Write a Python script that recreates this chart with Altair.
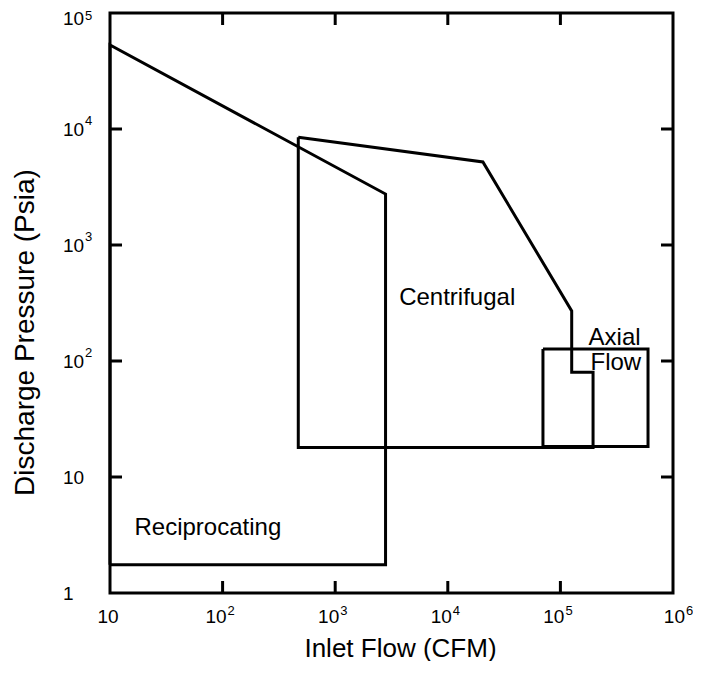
import altair as alt
import pandas as pd

# Region outlines (Inlet flow CFM, discharge pressure psia)
recip_x = [10, 10, 2800, 2800, 10]
recip_y = [1.75, 53000, 2750, 1.75, 1.75]

centri_x = [470, 20500, 126000, 126000, 195000, 195000, 470, 470]
centri_y = [8500, 5200, 270, 80, 80, 18, 18, 8500]

axial_x = [70000, 600000, 600000, 70000, 70000]
axial_y = [127, 127, 18.3, 18.3, 127]

label_text = ["Reciprocating", "Centrifugal", "Axial", "Flow"]
label_x = [16.5, 3700, 178000, 185000]
label_y = [3.6, 350, 158, 96]

x_ticks = [10, 100, 1000, 10000, 100000, 1000000]
x_tick_base = ["10", "10", "10", "10", "10", "10"]
x_tick_exp = ["", "2", "3", "4", "5", "6"]
y_ticks = [1, 10, 100, 1000, 10000, 100000]
y_tick_base = ["1", "10", "10", "10", "10", "10"]
y_tick_exp = ["", "", "2", "3", "4", "5"]

rows = []
for name, xs, ys in [("Reciprocating", recip_x, recip_y),
                     ("Centrifugal", centri_x, centri_y),
                     ("Axial", axial_x, axial_y)]:
    for i, (a, b) in enumerate(zip(xs, ys)):
        rows.append({"region": name, "order": i, "flow": a, "pressure": b})
df = pd.DataFrame(rows)
labels = pd.DataFrame({"text": label_text, "flow": label_x, "pressure": label_y})
xl = pd.DataFrame({"v": x_ticks, "base": x_tick_base, "exp": x_tick_exp})
yl = pd.DataFrame({"v": y_ticks, "base": y_tick_base, "exp": y_tick_exp})
xt = pd.DataFrame({"v": x_ticks[1:-1]})
yt = pd.DataFrame({"v": y_ticks[1:-1]})

W, H = 563, 580
FONT = "Liberation Sans"
LFS, SFS = 19, 13

xscale = alt.Scale(type="log", domain=[10, 1000000], nice=False)
yscale = alt.Scale(type="log", domain=[1, 100000], nice=False)

xaxis = alt.Axis(values=x_ticks, ticks=False, tickSize=0, domain=False, grid=False,
                 labels=False,
                 title="Inlet Flow (CFM)", titleFont=FONT, titleFontSize=26,
                 titleFontWeight="normal", titleColor="black",
                 titleX=290, titleY=63, titleBaseline="alphabetic")
yaxis = alt.Axis(values=y_ticks, ticks=False, tickSize=0, domain=False, grid=False,
                 labels=False,
                 title="Discharge Pressure (Psia)", titleFont=FONT, titleFontSize=28,
                 titleFontWeight="normal", titleColor="black",
                 titleX=-71, titleY=319, titleBaseline="bottom")

lines = alt.Chart(df).mark_line(color="black", strokeWidth=3, strokeJoin="miter").encode(
    x=alt.X("flow:Q", scale=xscale, axis=xaxis),
    y=alt.Y("pressure:Q", scale=yscale, axis=yaxis),
    detail="region:N",
    order="order:Q",
)

text = alt.Chart(labels).mark_text(align="left", baseline="middle", font=FONT,
                                   fontSize=24, color="black").encode(
    x=alt.X("flow:Q", scale=xscale),
    y=alt.Y("pressure:Q", scale=yscale),
    text="text:N",
)

def tx(filt, align, dx, yoff, field, size):
    return alt.Chart(xl).transform_filter(filt).mark_text(
        align=align, baseline="alphabetic", font=FONT, fontSize=size, color="black", dx=dx
    ).encode(x=alt.X("v:Q", scale=xscale), y=alt.value(H + yoff), text=f"{field}:N")

def ty(filt, x, dy, field, size):
    return alt.Chart(yl).transform_filter(filt).mark_text(
        align="left", baseline="alphabetic", font=FONT, fontSize=size, color="black", dy=dy
    ).encode(y=alt.Y("v:Q", scale=yscale), x=alt.value(x), text=f"{field}:N")

# tick labels: base "10" plus raised exponent
x_labels = [
    tx("datum.exp == ''", "center", -2, 30, "base", LFS),
    tx("datum.exp != '' && datum.v < 1000000", "right", 4, 30, "base", LFS),
    tx("datum.exp != '' && datum.v < 1000000", "left", 5, 22, "exp", SFS),
    tx("datum.v == 1000000", "right", 12, 30, "base", LFS),
    tx("datum.v == 1000000", "left", 13, 22, "exp", SFS),
]
y_labels = [
    ty("datum.v < 100000", -47, 7, "base", LFS),
    ty("datum.exp != '' && datum.v < 100000", -25, -4, "exp", SFS),
    ty("datum.v == 100000", -47, 12, "base", LFS),
    ty("datum.v == 100000", -25, 7, "exp", SFS),
]

tl = 12
bt = alt.Chart(xt).mark_rule(color="black", strokeWidth=3).encode(
    x=alt.X("v:Q", scale=xscale), y=alt.value(H), y2=alt.value(H - tl))
tt = alt.Chart(xt).mark_rule(color="black", strokeWidth=3).encode(
    x=alt.X("v:Q", scale=xscale), y=alt.value(0), y2=alt.value(tl))
lt = alt.Chart(yt).mark_rule(color="black", strokeWidth=3).encode(
    y=alt.Y("v:Q", scale=yscale), x=alt.value(0), x2=alt.value(tl))
rt = alt.Chart(yt).mark_rule(color="black", strokeWidth=3).encode(
    y=alt.Y("v:Q", scale=yscale), x=alt.value(W), x2=alt.value(W - tl))

chart = alt.layer(lines, text, *x_labels, *y_labels, bt, tt, lt, rt).properties(
    width=W, height=H,
    background="white",
    autosize=alt.AutoSizeParams(type="none"),
    padding={"left": 102, "top": 5, "right": 20, "bottom": 68},
).configure_view(stroke="black", strokeWidth=3)

chart.save("out.html", embed_options={"renderer": "svg", "actions": False})
